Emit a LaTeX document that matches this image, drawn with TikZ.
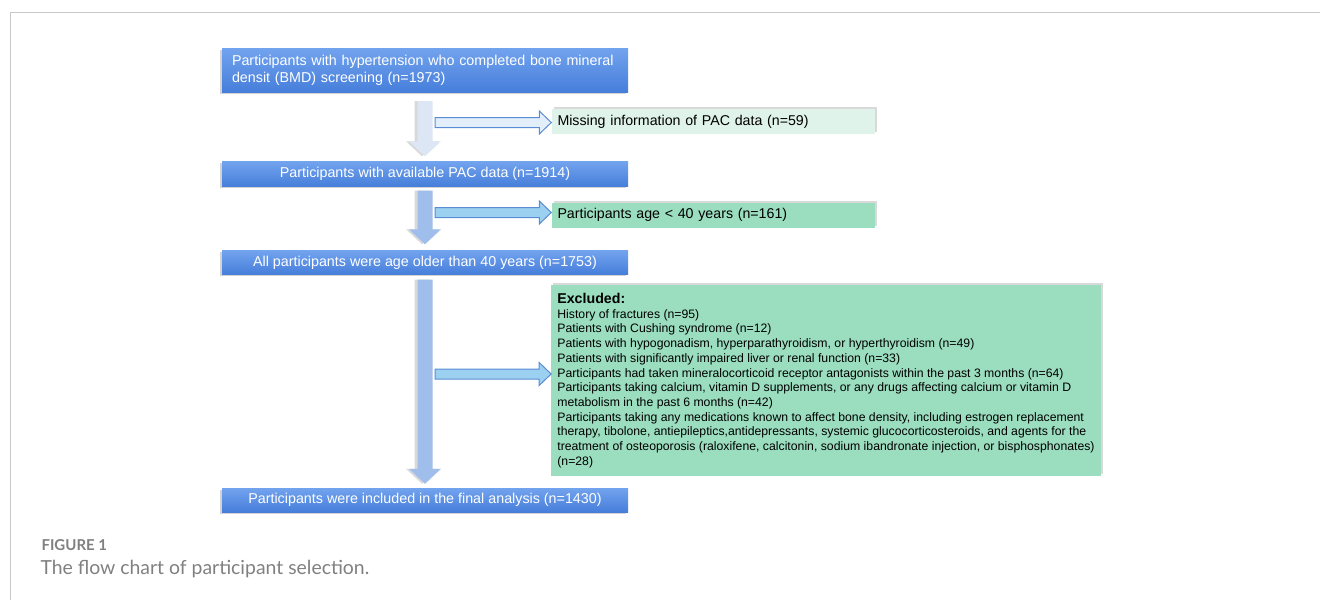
\documentclass[tikz,border=0pt]{standalone}
\usepackage{fontspec}
\setmainfont{Liberation Sans}
\newfontfamily\capfont{Lato}
\usetikzlibrary{calc,shadows}
\definecolor{framegray}{RGB}{200,200,200}
\definecolor{boxtop}{RGB}{114,163,238}
\definecolor{boxbot}{RGB}{70,126,218}
\definecolor{trunkA}{RGB}{220,230,245}
\definecolor{trunkB}{RGB}{160,190,236}
\definecolor{sideline}{RGB}{90,140,214}
\definecolor{sideA}{RGB}{226,238,250}
\definecolor{sideB}{RGB}{155,208,240}
\definecolor{mintA}{RGB}{223,243,234}
\definecolor{mintB}{RGB}{155,221,191}
\definecolor{capgray}{RGB}{128,128,128}

% block arrows: style, from, to
\newcommand\downblk[3]{\path[#1] let \p1=(#2), \p2=(#3) in
  (\x1-7.5pt,\y1) -- (\x1+7.5pt,\y1) -- (\x1+7.5pt,\y2+15pt) -- (\x1+16pt,\y2+15pt)
  -- (\x1,\y2) -- (\x1-16pt,\y2+15pt) -- (\x1-7.5pt,\y2+15pt) -- cycle;}
\newcommand\sideblk[3]{\path[#1] let \p1=(#2), \p2=(#3) in
  (\x1,\y1+5pt) -- (\x2-12pt,\y1+5pt) -- (\x2-12pt,\y1+11.5pt) -- (\x2,\y1)
  -- (\x2-12pt,\y1-11.5pt) -- (\x2-12pt,\y1-5pt) -- (\x1,\y1-5pt) -- cycle;}

\begin{document}
\begin{tikzpicture}[x=1pt,y=-1pt,
    blue box/.style={top color=boxtop, bottom color=boxbot, text=white, inner sep=0pt,
      minimum width=406pt, font=\fontsize{14.3}{17}\selectfont,
      drop shadow={shadow xshift=-2pt, shadow yshift=-1.5pt, opacity=.35}},
    mint box/.style={inner sep=0pt, align=left,
      drop shadow={shadow xshift=2pt, shadow yshift=2pt, opacity=.3}},
    trunk/.style={drop shadow={shadow xshift=-3pt, shadow yshift=0pt, opacity=.3}},
    side/.style={draw=sideline, line width=1pt}]
  \useasboundingbox (0,0) rectangle (1320,600);
  \draw[framegray, line width=1pt] (10,600) |- (1320,12);

  \node[blue box, minimum height=44pt, text width=386pt, align=left] (b1) at (425,70)
    {Participants with hypertension who completed bone mineral\\densit (BMD) screening (n=1973)};
  \node[blue box, minimum height=25pt] (b2) at (425,174) {Participants with available PAC data (n=1914)};
  \node[blue box, minimum height=24pt] (b3) at (425,262.5) {All participants were age older than 40 years (n=1753)};
  \node[blue box, minimum height=24pt] (b4) at (425,500) {Participants were included in the final analysis (n=1430)};

  \node[mint box, fill=mintA, minimum width=323pt, minimum height=25pt, text width=311pt,
    font=\fontsize{14.2}{17}\selectfont] (m1) at (713,121.5) {Missing information of PAC data (n=59)};
  \node[mint box, fill=mintB, minimum width=323pt, minimum height=25pt, text width=311pt,
    font=\fontsize{14.2}{17}\selectfont] (m2) at (713,215) {Participants age < 40 years (n=161)};
  \node[mint box, fill=mintB, minimum width=548pt, minimum height=191pt, inner xsep=6pt,
    font=\fontsize{12.25}{14.7}\selectfont] (ex) at (826,380.5)
    {{\fontsize{14.2}{15}\selectfont\bfseries Excluded:}\\
     History of fractures (n=95)\\
     Patients with Cushing syndrome (n=12)\\
     Patients with hypogonadism, hyperparathyroidism, or hyperthyroidism (n=49)\\
     Patients with significantly impaired liver or renal function (n=33)\\
     Participants had taken mineralocorticoid receptor antagonists within the past 3 months (n=64)\\
     Participants taking calcium, vitamin D supplements, or any drugs affecting calcium or vitamin D\\
     metabolism in the past 6 months (n=42)\\
     Participants taking any medications known to affect bone density, including estrogen replacement\\
     therapy, tibolone, antiepileptics,antidepressants, systemic glucocorticosteroids, and agents for the\\
     treatment of osteoporosis (raloxifene, calcitonin, sodium ibandronate injection, or bisphosphonates)\\
     (n=28)};

  \downblk{trunk, fill=trunkA}{$(b1.south)+(0,9)$}{$(b2.north)+(0,-5)$}
  \downblk{trunk, fill=trunkB}{$(b2.south)+(0,4)$}{$(b3.north)+(0,-6)$}
  \downblk{trunk, fill=trunkB}{$(b3.south)+(0,5)$}{$(b4.north)+(0,-4)$}

  \coordinate (j1) at (435,122.5);
  \coordinate (j2) at (435,212.5);
  \coordinate (j3) at (435,374);
  \sideblk{side, fill=sideA}{j1}{j1 -| m1.west}
  \sideblk{side, fill=sideB}{j2}{j2 -| m2.west}
  \sideblk{side, fill=sideB}{j3}{j3 -| ex.west}

  \node[anchor=base west, text=capgray, font=\capfont\bfseries\fontsize{15}{17}\selectfont] (fig) at (38,550) {FIGURE 1};
  \node[anchor=base west, text=capgray, font=\capfont\fontsize{19.4}{23}\selectfont] (cap) at (37,574) {The flow chart of participant selection.};
\end{tikzpicture}
\end{document}
